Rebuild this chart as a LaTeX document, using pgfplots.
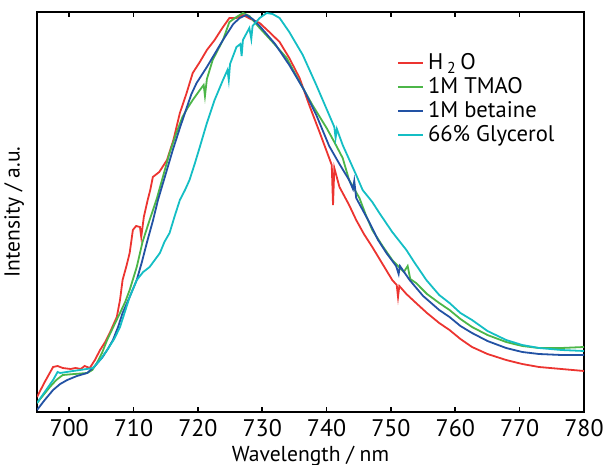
\documentclass[border=0pt]{standalone}
\usepackage{pgfplots}
\pgfplotsset{compat=1.18}
\usepackage{fontspec}
\setmainfont{PT Sans}

\definecolor{cRed}{RGB}{236,52,48}
\definecolor{cGreen}{RGB}{76,182,72}
\definecolor{cBlue}{RGB}{34,82,164}
\definecolor{cCyan}{RGB}{20,190,196}

\begin{document}
\begin{tikzpicture}
\begin{axis}[
    width=273.5pt, height=200pt, scale only axis,
    xmin=695, xmax=780, ymin=0, ymax=400,
    xtick={700,710,...,780}, ytick=\empty,
    tick align=inside, xtick pos=both,
    major tick length=2.5pt,
    axis line style={line width=1.1pt},
    every tick/.style={black, line width=0.8pt},
    /pgf/number format/assume math mode=true,
    /pgf/number format/1000 sep={},
    tick label style={font=\fontsize{12}{14}\selectfont},
    label style={font=\fontsize{10.8}{13}\selectfont},
    xlabel={Wavelength / nm},
    ylabel={Intensity / a.u.},
    xlabel style={yshift=2pt},
    ylabel style={yshift=3pt},
    legend style={draw=none, fill=none, font=\fontsize{11.3}{13}\selectfont,
        at={(0.965,0.918)}, anchor=north east, row sep=-1.5pt},
    legend cell align=left,
    legend image code/.code={\draw[#1, line width=1.2pt] (0pt,0pt) -- (12.5pt,0pt);},
    every axis plot/.append style={line width=0.9pt},
]
% H2O
\addplot[cRed] coordinates {
(695.0,15) (696.2,30) (697.5,45) (698.2,46) (699.0,44) (700.2,43) (701.0,44) (701.8,43) (702.4,46) (703.2,44)
(704.0,52) (704.8,62) (705.6,70) (706.3,79) (707.4,95) (707.9,112) (708.3,132) (708.9,146) (709.4,159) (709.9,182)
(710.4,186) (711.0,185) (711.2,175) (711.6,195) (712.2,212) (712.6,222) (713.0,235) (714.0,240) (715.2,252) (716.2,272)
(717.2,299) (718.2,318) (719.2,339) (720.3,350) (721.4,362) (722.6,372) (723.8,384) (724.9,394) (726.0,394) (727.0,397)
(728.2,393) (729.6,389) (731.1,380) (732.7,370) (734.2,354) (735.8,334) (737.3,307) (738.9,280) (740.4,254) (740.8,247)
(741.0,207) (741.2,244) (742.0,225) (743.5,207) (744.6,192) (745.8,178) (747.1,165) (748.6,149) (750.2,132) (750.9,127)
(751.1,115) (751.3,126) (752.4,118) (753.9,109) (755.6,99) (757.5,89) (759.1,82) (760.8,73) (762.6,65) (765.0,58)
(767.9,52) (770.4,48) (773.0,45) (776.5,43) (780.0,41)
};
% TMAO
\addplot[cGreen] coordinates {
(695.0,9) (696.0,17) (697.0,25) (698.0,32) (699.0,37) (700.8,38) (702.8,39) (703.6,42) (704.3,49) (705.1,59)
(705.9,72) (707.0,87) (707.9,99) (708.7,110) (709.4,122) (710.5,145) (711.4,170) (712.5,192) (713.6,213) (714.6,236)
(715.6,259) (716.6,278) (717.6,295) (718.4,304) (719.2,312) (720.2,321) (720.9,327) (721.1,316) (721.4,333) (722.3,352)
(723.1,362) (723.9,372) (724.9,390) (726.0,395) (727.0,399) (728.0,396) (729.6,384) (731.6,370) (733.8,354) (735.8,330)
(737.8,307) (740.0,284) (741.2,270) (742.5,254) (743.5,232) (745.1,214) (746.1,197) (747.1,182) (748.7,166) (750.2,152)
(752.0,140) (752.6,146) (753.0,133) (753.9,129) (755.6,118) (757.5,109) (759.1,102) (760.8,93) (762.6,85) (765.0,77)
(767.9,70) (770.4,66) (773.0,64) (776.5,64) (780.0,65)
};
% betaine
\addplot[cBlue] coordinates {
(695.0,2) (696.2,12) (697.5,22) (698.6,28) (699.7,32) (701.2,36) (702.8,39) (704.0,46) (705.2,55) (706.0,63)
(706.8,72) (707.6,85) (708.3,99) (709.4,115) (710.5,132) (711.3,150) (712.1,170) (713.0,191) (713.8,212) (715.0,238)
(716.1,262) (717.2,284) (718.3,305) (719.0,318) (719.8,329) (720.6,337) (721.4,345) (722.6,358) (723.9,372) (725.5,388)
(726.5,394) (727.5,397) (728.5,393) (729.6,386) (732.0,368) (734.2,347) (736.5,322) (738.4,297) (740.4,266) (742.0,248)
(743.5,232) (744.1,223) (744.3,231) (744.6,214) (746.7,189) (748.0,172) (749.3,159) (750.8,146) (751.2,138) (751.4,146)
(752.9,132) (755.0,116) (757.5,102) (759.1,95) (760.8,86) (762.6,79) (765.0,71) (767.9,64) (770.4,60) (773.0,58)
(776.5,57) (780.0,57)
};
% Glycerol
\addplot[cCyan] coordinates {
(695.0,9) (696.2,20) (697.5,32) (698.2,40) (698.6,39) (699.6,40) (700.6,41) (701.7,42) (702.7,43) (703.7,44)
(704.8,52) (705.9,62) (707.0,73) (707.9,85) (708.6,99) (709.4,115) (710.5,132) (711.5,140) (712.5,145) (713.3,152)
(714.1,159) (714.8,170) (715.6,179) (716.4,196) (717.2,212) (718.0,222) (718.7,232) (719.5,248) (720.3,265) (721.4,289)
(722.6,312) (723.9,332) (724.6,342) (724.8,332) (725.0,348) (726.0,365) (726.6,368) (726.8,356) (727.0,372) (728.0,384)
(728.3,373) (728.5,386) (729.6,394) (730.7,399) (731.6,398) (732.7,394) (734.2,380) (736.3,357) (738.4,327) (740.4,297)
(741.2,285) (741.4,274) (741.6,283) (742.5,267) (744.6,237) (745.6,222) (747.1,210) (748.2,199) (750.2,180) (752.4,162)
(753.6,150) (755.5,132) (757.5,117) (759.1,109) (760.8,99) (762.6,92) (765.0,81) (767.9,72) (770.4,67) (773.0,64)
(776.5,62) (780.0,61)
};
\legend{H\,\textsubscript{2}\,O, 1M TMAO, 1M betaine, 66\% Glycerol}
\end{axis}
\pgfresetboundingbox
\path[use as bounding box] ([shift={(-18.5pt,-26.5pt)}]current axis.south west)
    rectangle ([shift={(10.5pt,6pt)}]current axis.north east);
\end{tikzpicture}
\end{document}
